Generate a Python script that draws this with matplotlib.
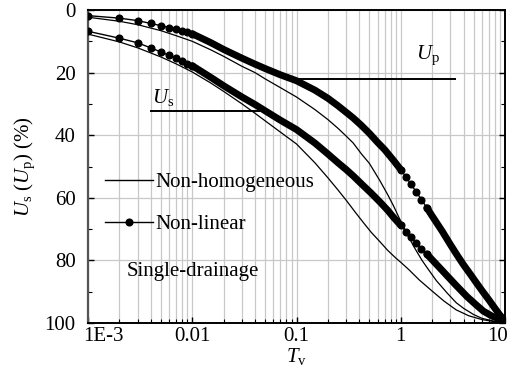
import numpy as np
import matplotlib
matplotlib.use("Agg")
import matplotlib.pyplot as plt
from matplotlib.lines import Line2D
from matplotlib.ticker import LogLocator, FixedLocator, MultipleLocator, NullFormatter
from matplotlib.transforms import ScaledTranslation

plt.rcParams["font.family"] = ["Liberation Serif", "DejaVu Serif"]
plt.rcParams["mathtext.fontset"] = "custom"
plt.rcParams["mathtext.rm"] = "Liberation Serif"
plt.rcParams["mathtext.it"] = "Liberation Serif:italic"

FS = 15

# Up, non-linear (dotted)
t_nl_p = [0.001, 0.002, 0.003, 0.004, 0.005, 0.006, 0.007, 0.008, 0.009, 0.01,
          0.015, 0.02, 0.03, 0.04, 0.05, 0.07, 0.1, 0.15, 0.2, 0.25, 0.3, 0.35,
          0.42, 0.5, 0.6, 0.7, 0.85, 1.0,
          1.12, 1.25, 1.4, 1.58, 1.78, 2.0, 2.5, 3.0, 3.5, 4.0, 4.6, 5.3, 6.0,
          7.0, 8.0, 9.0, 10.0]
u_nl_p = [1.8, 2.6, 3.4, 4.3, 5.0, 5.6, 6.2, 6.7, 7.1, 7.6,
          10.4, 12.6, 15.4, 17.3, 18.7, 20.7, 22.6, 25.6, 28.2, 30.6, 32.7, 34.5,
          36.9, 39.4, 42.3, 44.6, 48.0, 51.0,
          53.3, 55.6, 58.0, 60.6, 63.2, 65.8, 70.7, 75.0, 78.5, 81.4, 84.2, 87.1, 89.6,
          92.6, 95.3, 97.6, 99.3]

# Us, non-linear (dotted)
t_nl_s = [0.001, 0.002, 0.003, 0.004, 0.005, 0.006, 0.007, 0.008, 0.009, 0.01,
          0.015, 0.02, 0.03, 0.04, 0.05, 0.07, 0.1, 0.15, 0.2, 0.25, 0.3, 0.35,
          0.44, 0.52, 0.63, 0.75, 0.85, 1.0,
          1.12, 1.25, 1.4, 1.58, 1.78, 2.0, 2.4, 2.8, 3.4, 4.3, 5.2, 6.2, 7.5,
          9.0, 10.0]
u_nl_s = [6.8, 9.0, 10.5, 12.1, 13.4, 14.5, 15.4, 16.3, 17.1, 17.8,
          21.5, 24.2, 27.8, 30.2, 32.2, 35.2, 38.2, 42.5, 46.0, 48.8, 51.0, 53.0,
          56.2, 58.5, 61.3, 64.0, 66.2, 68.8,
          70.8, 72.6, 74.4, 76.2, 78.0, 79.8, 82.6, 85.0, 88.0, 91.5, 94.0, 96.2, 97.8,
          98.8, 99.4]

# Up, non-homogeneous (thin)
t_nh_p = [0.001, 0.002, 0.003, 0.005, 0.007, 0.01, 0.015, 0.02, 0.03, 0.04, 0.05,
          0.07, 0.1, 0.15, 0.2, 0.25, 0.3, 0.35, 0.42, 0.5, 0.63, 0.75, 0.85, 1.0,
          1.15, 1.33, 1.6, 1.85, 2.2, 2.8, 3.4, 4.0, 5.0, 6.0, 8.0, 10.0]
u_nh_p = [2.3, 3.6, 4.7, 6.6, 8.2, 10.0, 12.7, 14.8, 18.0, 20.0, 22.0,
          24.8, 27.8, 31.8, 35.0, 37.8, 40.3, 42.5, 46.0, 49.0, 54.5, 59.0, 62.5, 67.5,
          71.5, 75.5, 80.0, 83.0, 86.5, 90.5, 93.5, 95.3, 97.3, 98.5, 99.5, 100.0]

# Us, non-homogeneous (thin)
t_nh_s = [0.001, 0.002, 0.003, 0.005, 0.007, 0.01, 0.015, 0.02, 0.03, 0.04, 0.05,
          0.07, 0.1, 0.15, 0.2, 0.25, 0.3, 0.37, 0.44, 0.52, 0.63, 0.75, 0.9, 1.0,
          1.2, 1.5, 2.0, 2.6, 3.4, 4.5, 6.0, 8.0, 10.0]
u_nh_s = [7.7, 10.2, 12.1, 15.0, 17.2, 19.8, 23.3, 26.0, 30.0, 33.0, 35.4,
          39.0, 42.8, 48.8, 53.6, 57.5, 60.8, 64.8, 68.0, 71.0, 74.0, 76.8, 79.3, 80.6,
          83.0, 86.2, 89.8, 93.0, 95.8, 97.7, 98.9, 99.6, 100.0]

x_ticks = [1e-3, 1e-2, 1e-1, 1, 10]
x_labels = ["1E-3", "0.01", "0.1", "1", "10"]
y_ticks = [0, 20, 40, 60, 80, 100]

fig = plt.figure(figsize=(5.08, 3.79), dpi=100)
ax = fig.add_axes([88 / 508, 56 / 379, 417 / 508, 313 / 379])

ax.set_xscale("log")
ax.set_xlim(1e-3, 10)
ax.set_ylim(100, 0)

ax.xaxis.set_major_locator(FixedLocator(x_ticks))
ax.set_xticklabels(x_labels)
ax.xaxis.set_minor_locator(LogLocator(base=10, subs=np.arange(2, 10)))
ax.xaxis.set_minor_formatter(NullFormatter())
ax.yaxis.set_major_locator(FixedLocator(y_ticks))
ax.yaxis.set_minor_locator(MultipleLocator(10))

ax.grid(True, which="both", axis="x", color="#c8c8c8", lw=0.9)
ax.grid(True, which="major", axis="y", color="#c8c8c8", lw=0.9)
ax.set_axisbelow(True)

ax.tick_params(which="both", direction="in", left=True, right=True, bottom=True, top=False,
               labelsize=FS, color="k")
ax.tick_params(which="major", length=4, width=1)
ax.tick_params(which="minor", length=3, width=0.8)
ax.tick_params(axis="y", pad=9)
ax.tick_params(axis="x", pad=3)

for s in ["top", "bottom", "right"]:
    ax.spines[s].set_linewidth(1.4)
    ax.spines[s].set_color("k")
ax.spines["left"].set_linewidth(1.6)
ax.spines["left"].set_color("#555555")

# end labels sit inside the figure in the original
lbls = ax.get_xticklabels()
lbls[0].set_transform(lbls[0].get_transform() + ScaledTranslation(15 / 100, 0, fig.dpi_scale_trans))
lbls[-1].set_transform(lbls[-1].get_transform() + ScaledTranslation(-7 / 100, 0, fig.dpi_scale_trans))

# non-homogeneous
ax.plot(t_nh_p, u_nh_p, color="k", lw=0.9, zorder=3)
ax.plot(t_nh_s, u_nh_s, color="k", lw=0.9, zorder=3)


def draw_nonlinear(t, u):
    t = np.asarray(t)
    u = np.asarray(u)
    ax.plot(t, u, color="k", lw=1.0, zorder=4)
    dots = (t <= 0.01) | ((t >= 1.0) & (t <= 1.78))
    ax.plot(t[dots], u[dots], "o", color="k", ms=4.8, zorder=5)
    # dense output -> markers merge into a thick band
    for m in ((t >= 0.01) & (t <= 1.0), t >= 1.78):
        ax.plot(t[m], u[m], color="k", lw=5.0, solid_capstyle="round",
                solid_joinstyle="round", zorder=5)


draw_nonlinear(t_nl_p, u_nl_p)
draw_nonlinear(t_nl_s, u_nl_s)

# U_p / U_s pointers
ax.hlines(22, 0.1, 3.4, color="k", lw=1.4, zorder=6)
ax.text(1.82, 18.3, r"$U_{\mathrm{p}}$", fontsize=FS, ha="center", va="bottom")
ax.hlines(32.3, 0.0039, 0.047, color="k", lw=1.4, zorder=6)
ax.text(0.0052, 31.2, r"$U_{\mathrm{s}}$", fontsize=FS, ha="center", va="bottom")

handles = [Line2D([], [], color="k", lw=1.0),
           Line2D([], [], color="k", lw=1.0, marker="o", ms=4.8)]
ax.legend(handles, ["Non-homogeneous", "Non-linear"], loc="upper left",
          bbox_to_anchor=(0.041, 0.48), frameon=False, fontsize=FS,
          handlelength=2.3, handletextpad=0.1, labelspacing=1.05,
          borderpad=0, borderaxespad=0, numpoints=1)

ax.text(0.0935, 0.163, "Single-drainage", transform=ax.transAxes, fontsize=FS,
        ha="left", va="center")

ax.set_xlabel(r"$T_{\mathrm{v}}$", fontsize=FS, labelpad=0)
ax.set_ylabel(r"$U_{\mathrm{s}}$ ($U_{\mathrm{p}}$) (%)", fontsize=FS, labelpad=5)

fig.savefig("out.png", dpi=100)
